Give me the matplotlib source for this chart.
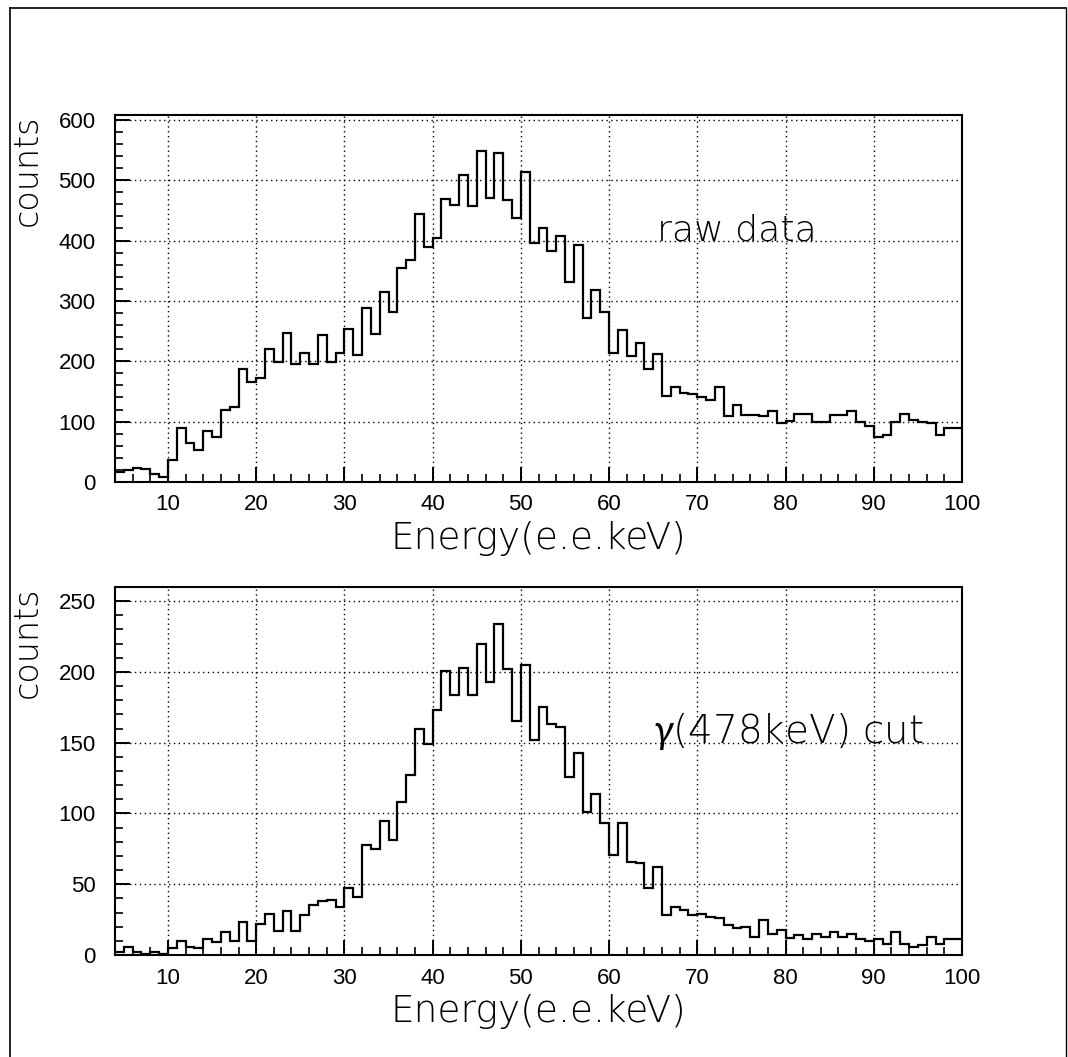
import numpy as np
import matplotlib
matplotlib.use("Agg")
import matplotlib.pyplot as plt
from matplotlib.lines import Line2D
from matplotlib.ticker import MultipleLocator

plt.rcParams["mathtext.fontset"] = "custom"
plt.rcParams["mathtext.it"] = "Lato:italic"
plt.rcParams["mathtext.rm"] = "DejaVu Sans:light"

# ---- data (1 keV bins from 4 to 100 keV) ----
bin_edges = np.arange(4, 101, 1)

raw_counts = [17, 20, 24, 22, 14, 8,
              36, 89, 65, 53, 85, 74, 120, 125, 188, 165,
              173, 220, 199, 247, 195, 213, 196, 244, 199, 213,
              253, 210, 288, 245, 315, 282, 354, 368, 444, 390,
              405, 469, 459, 508, 457, 549, 471, 545, 468, 438,
              514, 396, 420, 382, 408, 331, 392, 271, 318, 281,
              213, 252, 209, 230, 187, 212, 143, 157, 148, 145,
              140, 136, 157, 109, 128, 111, 111, 110, 117, 98,
              101, 113, 113, 100, 100, 111, 111, 117, 100, 92,
              75, 78, 100, 112, 102, 100, 97, 78, 89, 89]

cut_counts = [2, 6, 2, 1, 2, 1,
              5, 10, 6, 5, 11, 9, 16, 10, 23, 10,
              22, 29, 17, 31, 17, 28, 35, 38, 39, 34,
              47, 41, 78, 75, 95, 81, 108, 127, 160, 149,
              173, 201, 184, 203, 184, 220, 193, 234, 202, 165,
              205, 152, 175, 163, 161, 126, 143, 101, 114, 93,
              71, 93, 66, 65, 47, 62, 28, 34, 32, 28,
              29, 27, 26, 21, 19, 20, 13, 25, 15, 18,
              12, 14, 11, 15, 13, 16, 13, 15, 11, 10,
              11, 8, 16, 8, 6, 7, 13, 8, 11, 11]

x_ticks = [10, 20, 30, 40, 50, 60, 70, 80, 90, 100]
raw_yticks = [0, 100, 200, 300, 400, 500, 600]
cut_yticks = [0, 50, 100, 150, 200, 250]
x_title = "Energy(e.e.keV)"
y_title = "counts"
raw_label = "raw data"
cut_label = r"$\gamma$(478keV) cut"

# ---- figure ----
W, H = 1068, 1057
fig = plt.figure(figsize=(W / 100, H / 100), dpi=100)
fig.patch.set_facecolor("white")

def ax_rect(left, top, right, bottom):
    return [left / W, 1 - bottom / H, (right - left) / W, (bottom - top) / H]

ax1 = fig.add_axes(ax_rect(115, 115, 962, 482))
ax2 = fig.add_axes(ax_rect(115, 587, 962, 955))

title_font = dict(family="DejaVu Sans", weight="light")
tick_font = "Liberation Sans"

def style(ax, counts, ylim, yticks, yminor, label, label_x, label_y, label_size):
    ax.stairs(counts, bin_edges, color="black", linewidth=1.6, baseline=None)
    ax.set_xlim(4, 100)
    ax.set_ylim(0, ylim)
    ax.set_xticks(x_ticks)
    ax.set_yticks(yticks)
    ax.xaxis.set_minor_locator(MultipleLocator(2))
    ax.yaxis.set_minor_locator(MultipleLocator(yminor))
    ax.tick_params(axis="both", which="major", direction="in", length=11,
                   width=1.4, labelsize=16, top=False, right=False)
    ax.tick_params(axis="both", which="minor", direction="in", length=6,
                   width=1.2, top=False, right=False)
    ax.tick_params(axis="x", which="major", pad=9)
    ax.tick_params(axis="y", which="major", pad=14)
    for lab in ax.get_xticklabels() + ax.get_yticklabels():
        lab.set_fontfamily(tick_font)
    ax.grid(True, which="major", color="black", linestyle=(0, (1, 2.5)),
            linewidth=1.0)
    for s in ax.spines.values():
        s.set_linewidth(1.5)
    ax.set_xlabel(x_title, fontsize=27, labelpad=4, **title_font)
    ax.set_ylabel(y_title, fontsize=24, loc="top", **title_font)
    ax.yaxis.set_label_coords(-0.084, 1.0)
    ax.text(label_x, label_y, label, fontsize=label_size, va="baseline",
            ha="left", **title_font)

style(ax1, raw_counts, 608, raw_yticks, 20, raw_label, 65.4, 400, 26)
style(ax2, cut_counts, 260, cut_yticks, 10, cut_label, 65.0, 150, 28)

# outer frame (left, top, right)
fx0, fx1, fy = 10 / W, 1066 / W, 1 - 8 / H
fig.add_artist(Line2D([fx0, fx0], [0, fy], color="black", lw=1.2))
fig.add_artist(Line2D([fx0, fx1], [fy, fy], color="black", lw=1.2))
fig.add_artist(Line2D([fx1, fx1], [0, fy], color="black", lw=1.0))

fig.savefig("out.png", dpi=100)
